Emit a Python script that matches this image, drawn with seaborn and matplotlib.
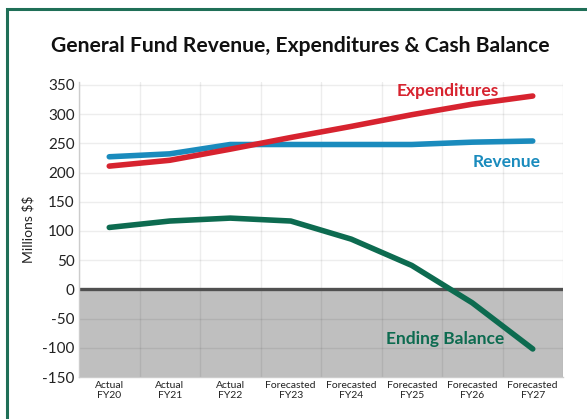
import matplotlib
matplotlib.use("Agg")
import matplotlib.pyplot as plt
from matplotlib.patches import Rectangle
import seaborn as sns
import pandas as pd

categories = ["Actual\nFY20", "Actual\nFY21", "Actual\nFY22", "Forecasted\nFY23",
              "Forecasted\nFY24", "Forecasted\nFY25", "Forecasted\nFY26", "Forecasted\nFY27"]
revenue = [227, 232, 248, 248, 248, 248, 252, 254]
expenditures = [211, 221, 240, 260, 279, 299, 317, 331]
ending_balance = [106, 117, 122, 117, 86, 41, -23, -102]
y_ticks = [-150, -100, -50, 0, 50, 100, 150, 200, 250, 300, 350]

series_names = ["Revenue", "Expenditures", "Ending Balance"]
colors = {"Revenue": "#1a8bbd", "Expenditures": "#d7232f", "Ending Balance": "#0d6b50"}

rows = []
for name, vals in zip(series_names, [revenue, expenditures, ending_balance]):
    for c, v in zip(categories, vals):
        rows.append({"Year": c, "Value": v, "Series": name})
df = pd.DataFrame(rows)

sns.set_theme(style="white")
plt.rcParams['font.family'] = ['Lato', 'DejaVu Sans']
plt.rcParams['text.parse_math'] = False

fig = plt.figure(figsize=(5.87, 4.19), dpi=100)
ax = fig.add_axes([79/587, 1 - 377/419, (563-79)/587, (377-82)/419])

# green frame
fig.patches.append(Rectangle((7/587, -0.1), 1.2, 1.1 - 9/419,
                             transform=fig.transFigure, fill=False,
                             edgecolor="#1f6f57", linewidth=2.2))

ax.axhspan(-150, 0, color="#bfbfbf", zorder=0, lw=0)
sns.lineplot(data=df, x="Year", y="Value", hue="Series", palette=colors,
             linewidth=4.0, ax=ax, legend=False, sort=False, zorder=3)
ax.axhline(0, color="#505050", lw=2.4, zorder=2)

ax.set_xlim(-0.5, 7.5)
ax.set_ylim(-150, 355)
ax.set_yticks(y_ticks)
ax.set_yticklabels([str(t) for t in y_ticks], fontsize=11, color="#222222")
ax.set_xticks(range(len(categories)))
ax.set_xticklabels(categories, fontsize=7.5, color="#222222", linespacing=1.1)
ax.set_xticks([i + 0.5 for i in range(-1, 8)], minor=True)
ax.grid(False)
ax.grid(True, which="major", axis="y", color="black", alpha=0.07, lw=1)
ax.grid(True, which="minor", axis="x", color="black", alpha=0.07, lw=1)
ax.set_axisbelow(True)
ax.tick_params(axis="both", which="both", length=0, pad=3)
ax.set_xlabel("")
ax.set_ylabel("Millions $$", fontsize=10, color="#222222", labelpad=6)
for s in ["top", "right"]:
    ax.spines[s].set_visible(False)
for s in ["left", "bottom"]:
    ax.spines[s].set_color("#cccccc")
    ax.spines[s].set_linewidth(1)

ax.text(5.6, 340, "Expenditures", color=colors["Expenditures"], fontsize=12.5,
        fontweight="bold", ha="center", va="center")
ax.text(6.57, 218, "Revenue", color=colors["Revenue"], fontsize=12.5,
        fontweight="bold", ha="center", va="center")
ax.text(5.55, -85, "Ending Balance", color=colors["Ending Balance"], fontsize=12.5,
        fontweight="bold", ha="center", va="center")

fig.text(300/587, 1 - 46/419, "General Fund Revenue, Expenditures & Cash Balance",
         fontsize=15.2, fontweight="bold", color="#111111", ha="center", va="center")

fig.savefig("out.png", dpi=100)
